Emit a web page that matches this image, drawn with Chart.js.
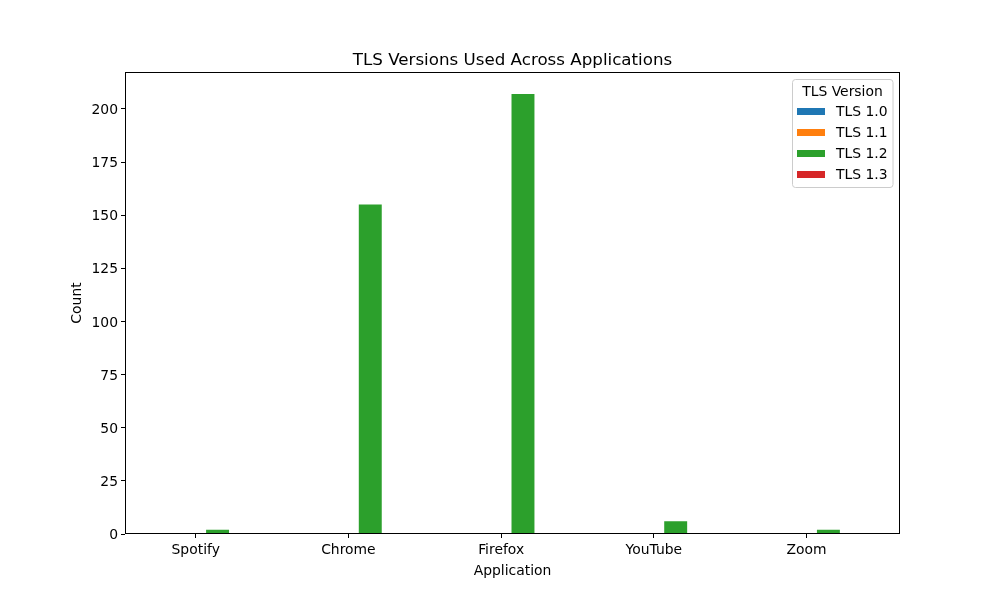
<!DOCTYPE html>
<html>
<head>
<meta charset="utf-8">
<script src="https://cdn.jsdelivr.net/npm/chart.js@4/dist/chart.umd.min.js"></script>
<style>
html,body{margin:0;padding:0;background:#fff;}
canvas{display:block;}
</style>
</head>
<body>
<canvas id="c" width="1000" height="600"></canvas>
<script>
const categories = ["Spotify", "Chrome", "Firefox", "YouTube", "Zoom"];
const seriesLabels = ["TLS 1.0", "TLS 1.1", "TLS 1.2", "TLS 1.3"];
const tls10 = [0, 0, 0, 0, 0];
const tls11 = [0, 0, 0, 0, 0];
const tls12 = [2, 155, 207, 6, 2];
const tls13 = [0, 0, 0, 0, 0];
const colors = ["#1f77b4", "#ff7f0e", "#2ca02c", "#d62728"];
const yTicks = [0, 25, 50, 75, 100, 125, 150, 175, 200];

const titleText = "TLS Versions Used Across Applications";
const xTitle = "Application";
const yTitle = "Count";
const legendTitle = "TLS Version";

const FONT = "DejaVu Sans";
const series = [tls10, tls11, tls12, tls13];

const datasets = series.map((arr, k) => ({
  label: seriesLabels[k],
  data: arr.map((v, i) => ({x: i, y: v})),
  backgroundColor: colors[k],
  borderWidth: 0,
  borderSkipped: false
}));

const overlay = {
  id: 'overlay',
  afterDraw(chart) {
    const ctx = chart.ctx;
    const a = chart.chartArea;
    ctx.save();
    // spines
    ctx.strokeStyle = '#000';
    ctx.lineWidth = 1;
    ctx.strokeRect(Math.round(a.left) + 0.5, Math.round(a.top) + 0.5, Math.round(a.right - a.left) - 1, Math.round(a.bottom - a.top) - 1);
    // title
    ctx.fillStyle = '#000';
    ctx.textAlign = 'center';
    ctx.textBaseline = 'alphabetic';
    ctx.font = `16.7px "${FONT}"`;
    ctx.fillText(titleText, (a.left + a.right) / 2, 64.5);
    // axis titles
    ctx.font = `13.9px "${FONT}"`;
    ctx.fillText(xTitle, (a.left + a.right) / 2, 574.5);
    ctx.save();
    ctx.translate(81, (a.top + a.bottom) / 2);
    ctx.rotate(-Math.PI / 2);
    ctx.fillText(yTitle, 0, 0);
    ctx.restore();
    // legend
    const lx = 792.5, ly = 79.5, lw = 100.5, lh = 108;
    const r = 3;
    ctx.beginPath();
    ctx.moveTo(lx + r, ly);
    ctx.lineTo(lx + lw - r, ly);
    ctx.arcTo(lx + lw, ly, lx + lw, ly + r, r);
    ctx.lineTo(lx + lw, ly + lh - r);
    ctx.arcTo(lx + lw, ly + lh, lx + lw - r, ly + lh, r);
    ctx.lineTo(lx + r, ly + lh);
    ctx.arcTo(lx, ly + lh, lx, ly + lh - r, r);
    ctx.lineTo(lx, ly + r);
    ctx.arcTo(lx, ly, lx + r, ly, r);
    ctx.closePath();
    ctx.fillStyle = 'rgba(255,255,255,0.8)';
    ctx.fill();
    ctx.strokeStyle = '#cccccc';
    ctx.lineWidth = 1;
    ctx.stroke();
    ctx.fillStyle = '#000';
    ctx.textAlign = 'center';
    ctx.font = `13.9px "${FONT}"`;
    ctx.fillText(legendTitle, 842.5, 96);
    ctx.textAlign = 'left';
    seriesLabels.forEach((lab, k) => {
      const cy = 111.2 + k * 21;
      ctx.fillStyle = colors[k];
      ctx.fillRect(797, Math.round(cy - 3.5), 28, 7);
      ctx.fillStyle = '#000';
      ctx.fillText(lab, 836, cy + 5);
    });
    ctx.restore();
  }
};

new Chart(document.getElementById('c'), {
  type: 'bar',
  data: { datasets },
  options: {
    responsive: false,
    animation: false,
    events: [],
    layout: { padding: { left: 0, right: 100, top: 72, bottom: 0 } },
    categoryPercentage: 1.145,
    barPercentage: 0.525,
    plugins: { legend: { display: false }, title: { display: false }, tooltip: { enabled: false } },
    scales: {
      x: {
        type: 'linear',
        offset: false,
        min: -0.463,
        max: 4.612,
        afterFit(s) { s.height = 66; },
        afterBuildTicks(s) { s.ticks = categories.map((_, i) => ({ value: i })); },
        border: { display: false },
        grid: { display: true, offset: false, drawOnChartArea: false, drawTicks: true, tickLength: 4, color: '#000', tickWidth: 1 },
        ticks: {
          color: '#000',
          font: { family: FONT, size: 13.9 },
          padding: 4.5,
          maxRotation: 0,
          autoSkip: false,
          callback: (v) => categories[v]
        }
      },
      y: {
        min: 0,
        max: 217.35,
        afterFit(s) { s.width = 125; },
        afterBuildTicks(s) { s.ticks = yTicks.map(v => ({ value: v })); },
        border: { display: false },
        grid: { display: true, drawOnChartArea: false, drawTicks: true, tickLength: 4, color: '#000', tickWidth: 1 },
        ticks: {
          color: '#000',
          font: { family: FONT, size: 13.9 },
          padding: 3,
          labelOffset: 1.5,
          callback: (v) => String(v)
        }
      }
    }
  },
  plugins: [overlay]
});
</script>
</body>
</html>
